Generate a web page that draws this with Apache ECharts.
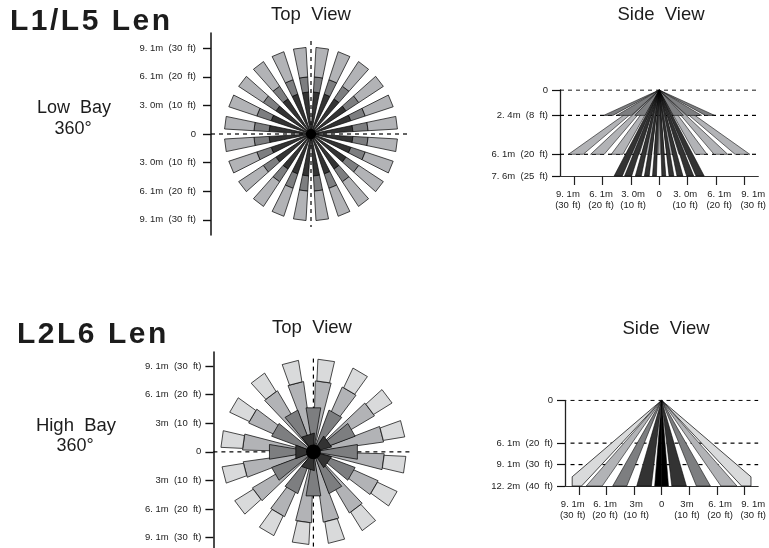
<!DOCTYPE html>
<html><head><meta charset="utf-8">
<style>html,body{margin:0;padding:0;background:#fff}#c{width:769px;height:548px}</style>
<script src="https://cdn.jsdelivr.net/npm/echarts@6/dist/echarts.min.js"></script>
</head><body><div id="c"></div>
<script>
const FONT = 'Liberation Sans';
const INK = '#222';
const shades = ['#000000', '#333333', '#7d7e80', '#b2b3b6', '#d9dadb'];

// ---------- top views: tick values and labels
const topTicks = [30, 20, 10, 0, -10, -20, -30];
const topLabelsA = ['9. 1m  (30  ft)', '6. 1m  (20  ft)', '3. 0m  (10  ft)', '0', '3. 0m  (10  ft)', '6. 1m  (20  ft)', '9. 1m  (30  ft)'];
const topLabelsB = ['9. 1m  (30  ft)', '6. 1m  (20  ft)', '3m  (10  ft)', '0', '3m  (10  ft)', '6. 1m  (20  ft)', '9. 1m  (30  ft)'];

// ---------- top view L1/L5: 24 spokes, three zones (feet)
const spokeAnglesA = [7.5, 22.5, 37.5, 52.5, 67.5, 82.5, 97.5, 112.5, 127.5, 142.5, 157.5, 172.5, 187.5, 202.5, 217.5, 232.5, 247.5, 262.5, 277.5, 292.5, 307.5, 322.5, 337.5, 352.5];
const zonesA = [[0, 14.7, 1], [14.7, 20, 2], [20, 30.3, 3]]; // from, to, shade
const halfWidthA = 4.2;
const hubA = 1.8;

// ---------- top view L2/L6: layered wedges (feet)
const spokeAnglesB = [82, 59.5, 37, 14.5, -8, -30.5, -53, -75.5, -98, -120.5, -143, -165.5, 172, 149.5, 127, 104.5];
const midAnglesB = [90, 60, 30, 0, -30, -60, -90, -120, -150, 180, 150, 120];
const innerAnglesB = [36, 108, 180, 252, 324];
const layersB = [
  { angles: spokeAnglesB, half: 6.5, from: 0, to: 24.8, shade: 3 },
  { angles: spokeAnglesB, half: 5.2, from: 24.8, to: 32.4, shade: 4 },
  { angles: midAnglesB, half: 9.5, from: 0, to: 15.6, shade: 2 },
  { angles: innerAnglesB, half: 21, from: 0, to: 6.6, shade: 1 }
];
const hubB = 2.6;

// ---------- side views: tick values and labels
const sideXTicks = [-30, -20, -10, 0, 10, 20, 30];
const sideXLabelPos = [-32.2, -20.5, -9.2, 0, 9.2, 21.2, 33.2];
const sideXLabelsA = ['9. 1m\n(30 \u200aft)', '6. 1m\n(20 \u200aft)', '3. 0m\n(10 \u200aft)', '0', '3. 0m\n(10 \u200aft)', '6. 1m\n(20 \u200aft)', '9. 1m\n(30 \u200aft)'];
const sideXLabelsB = ['9. 1m\n(30 \u200aft)', '6. 1m\n(20 \u200aft)', '3m\n(10 \u200aft)', '0', '3m\n(10 \u200aft)', '6. 1m\n(20 \u200aft)', '9. 1m\n(30 \u200aft)'];
const sideDepthA = [0, 7.9, 20, 26.75];
const sideDepthLabelsA = ['0', '2. 4m  (8  ft)', '6. 1m  (20  ft)', '7. 6m  (25  ft)'];
const sideDepthB = [0, 20, 30, 40];
const sideDepthLabelsB = ['0', '6. 1m  (20  ft)', '9. 1m  (30  ft)', '12. 2m  (40  ft)'];

// side bands: inner x, outer x at reach (feet)
const bandsLight = [[26.8, 32], [19.4, 24.2], [12.8, 16.9], [7, 10.4], [2.8, 6], [0.3, 1.8]];
const bandsShallow = [[16.3, 19.6], [9.8, 15], [5, 8.6]];
const bandsDark = [[13, 15.9], [9.7, 12.2], [6.3, 8.4], [3.5, 5.2], [0.95, 2.35]];
const bandsHigh = [[0, 2.5, 0], [3.7, 9, 1], [12.6, 17.7, 2], [21.5, 27.3, 3]];
const highOuter = { inner: 29, edgeX: 32.4, edgeDepth: 35.7, shade: 4 };

const mirror = rows => rows.flatMap(r => [[-r[1], -r[0], ...r.slice(2)], r]);
const sideRowsA = [
  ...mirror(bandsLight.map(b => [b[0], b[1], 20, 3])),
  ...mirror(bandsShallow.map(b => [b[0], b[1], 7.9, 2])),
  ...mirror(bandsDark.map(b => [b[0], b[1], 26.75, 1]))
];
const sideRowsB = mirror(bandsHigh.map(b => [b[0], b[1], 40, b[2]]));
const polyA = spokeAnglesA.flatMap(a => zonesA.map(z => [a, halfWidthA, z[0], z[1], z[2]]));
const polyB = layersB.flatMap(l => l.angles.map(a => [a, l.half, l.from, l.to, l.shade]));

const wedgeStyle = (s, w) => ({ fill: shades[s], stroke: '#000', lineWidth: w || 0.7 });
function renderWedge(p, api) {
  const a = api.value(0) * Math.PI / 180, h = api.value(1) * Math.PI / 180;
  const r0 = api.value(2), r1 = api.value(3);
  const pt = (r, t) => api.coord([r * Math.cos(t), r * Math.sin(t)]);
  return { type: 'polygon', shape: { points: [pt(r0, a - h), pt(r1, a - h), pt(r1, a + h), pt(r0, a + h)] }, style: wedgeStyle(api.value(4)) };
}
function renderBand(p, api) {
  const x0 = api.value(0), x1 = api.value(1), d = api.value(2);
  return { type: 'polygon', shape: { points: [api.coord([0, 0]), api.coord([x0, d]), api.coord([x1, d])] }, style: wedgeStyle(api.value(3), 0.55) };
}
function renderOuter(p, api) {
  const s = api.value(0), edge = api.value(1), ed = api.value(2), inner = api.value(3), reach = api.value(4);
  return { type: 'polygon', shape: { points: [api.coord([0, 0]), api.coord([s * edge, ed]), api.coord([s * edge, reach]), api.coord([s * inner, reach])] }, style: wedgeStyle(highOuter.shade, 0.7) };
}
function renderHub(p, api) {
  const c = api.coord([0, 0]), r = api.size([api.value(0), 0])[0];
  return { type: 'circle', shape: { cx: c[0], cy: c[1], r: r }, style: { fill: '#000' } };
}

const mapper = (vals, labels) => v => { const i = vals.findIndex(t => Math.abs(t - v) < 1e-6); return i < 0 ? '' : labels[i]; };
const spine = { show: true, onZero: false, lineStyle: { color: '#111', width: 1.5 } };
const labelStyle = { color: INK, fontFamily: FONT, fontSize: 9.5 };

function topY(i, max, min, labels, margin) {
  return { type: 'value', gridIndex: i, min, max, position: 'left', axisLine: spine, splitLine: { show: false },
    axisTick: { show: true, length: 8, customValues: topTicks, lineStyle: { color: '#111', width: 1.4 } },
    axisLabel: { ...labelStyle, margin, customValues: topTicks, formatter: mapper(topTicks, labels) } };
}
function hiddenX(i) { return { type: 'value', gridIndex: i, min: -35, max: 35, show: false, splitLine: { show: false } }; }
function sideX(i, labels) {
  return { type: 'value', gridIndex: i, min: -35, max: 35, position: 'bottom', splitLine: { show: false },
    axisLine: { show: true, onZero: false, lineStyle: { color: '#333', width: 1.2 } },
    axisTick: { show: true, length: 9, customValues: sideXTicks, lineStyle: { color: '#222', width: 1.2 } },
    axisLabel: { ...labelStyle, margin: 13, lineHeight: 11, hideOverlap: false, customValues: sideXLabelPos, formatter: mapper(sideXLabelPos, labels) } };
}
function sideY(i, max, vals, labels) {
  return { type: 'value', gridIndex: i, min: 0, max, inverse: true, position: 'left', splitLine: { show: false },
    axisLine: { show: true, onZero: false, lineStyle: { color: '#222', width: 1.3 } },
    axisTick: { show: true, length: 8, customValues: vals, lineStyle: { color: '#111', width: 1.2 } },
    axisLabel: { ...labelStyle, margin: 12, customValues: vals, formatter: mapper(vals, labels) } };
}
function dash(i, pts) {
  return { type: 'line', xAxisIndex: i, yAxisIndex: i, data: pts, symbol: 'none', silent: true, z: 1, animation: false,
    lineStyle: { color: '#000', width: 1.2, type: [4, 4] } };
}
function custom(i, render, rows, z) {
  return { type: 'custom', xAxisIndex: i, yAxisIndex: i, renderItem: render, data: rows, z: z || 3, silent: true, clip: false, animation: false };
}
function heading(text, left, top, size, weight, align) {
  return { text, left, top, padding: 0, textAlign: align || 'center',
    textStyle: { fontFamily: FONT, fontSize: size, fontWeight: weight || 'normal', color: '#1c1c1c', lineHeight: size + 2 } };
}
const sp = '\u200a';

const chart = echarts.init(document.getElementById('c'), null, { renderer: 'canvas' });
chart.setOption({
  animation: false,
  backgroundColor: '#fff',
  title: [
    heading(['L', '1', '/', 'L', '5', ' ', 'L', 'e', 'n'].join(sp), 10, 6, 30, 'bold', 'left'),
    heading(['L', '2', 'L', '6', ' ', 'L', 'e', 'n'].join(sp), 17, 319, 30, 'bold', 'left'),
    heading('Top  View', 311, 5, 18.5),
    heading('Side  View', 661, 5, 18.5),
    heading('Top  View', 312, 318, 18.5),
    heading('Side  View', 666, 319, 18.5),
    heading('Low  Bay', 74, 98, 18),
    heading('360°', 73, 119, 18),
    heading('High  Bay', 76, 416, 18.5),
    heading('360°', 75, 436, 18)
  ],
  grid: [
    { left: 211, top: 33, width: 200, height: 202 },
    { left: 560, top: 90, width: 200, height: 86 },
    { left: 213.4, top: 352, width: 200, height: 196 },
    { left: 565, top: 400.3, width: 200.6, height: 85.7 }
  ],
  xAxis: [hiddenX(0), sideX(1, sideXLabelsA), hiddenX(2), sideX(3, sideXLabelsB)],
  yAxis: [
    topY(0, 35.3, -35.3, topLabelsA, 15),
    sideY(1, 26.75, sideDepthA, sideDepthLabelsA),
    topY(2, 34.9, -33.6, topLabelsB, 12),
    sideY(3, 40, sideDepthB, sideDepthLabelsB)
  ],
  series: [
    dash(0, [[-35, 0], [35, 0]]),
    dash(0, [[0, 32.5], [0, -32.5]]),
    custom(0, renderWedge, polyA),
    custom(0, renderHub, [[hubA]], 4),

    dash(1, [[-35, 0], [35, 0]]),
    dash(1, [[-35, 7.9], [35, 7.9]]),
    dash(1, [[-35, 20], [35, 20]]),
    custom(1, renderBand, sideRowsA),

    dash(2, [[-35, 0], [35, 0]]),
    dash(2, [[0, 32.6], [0, -33.3]]),
    custom(2, renderWedge, polyB),
    custom(2, renderHub, [[hubB]], 4),

    dash(3, [[-33, 0], [35, 0]]),
    dash(3, [[-33, 20], [35, 20]]),
    dash(3, [[-33, 30], [35, 30]]),
    custom(3, renderOuter, [[-1, highOuter.edgeX, highOuter.edgeDepth, highOuter.inner, 40], [1, highOuter.edgeX, highOuter.edgeDepth, highOuter.inner, 40]]),
    custom(3, renderBand, sideRowsB)
  ]
});
</script></body></html>
